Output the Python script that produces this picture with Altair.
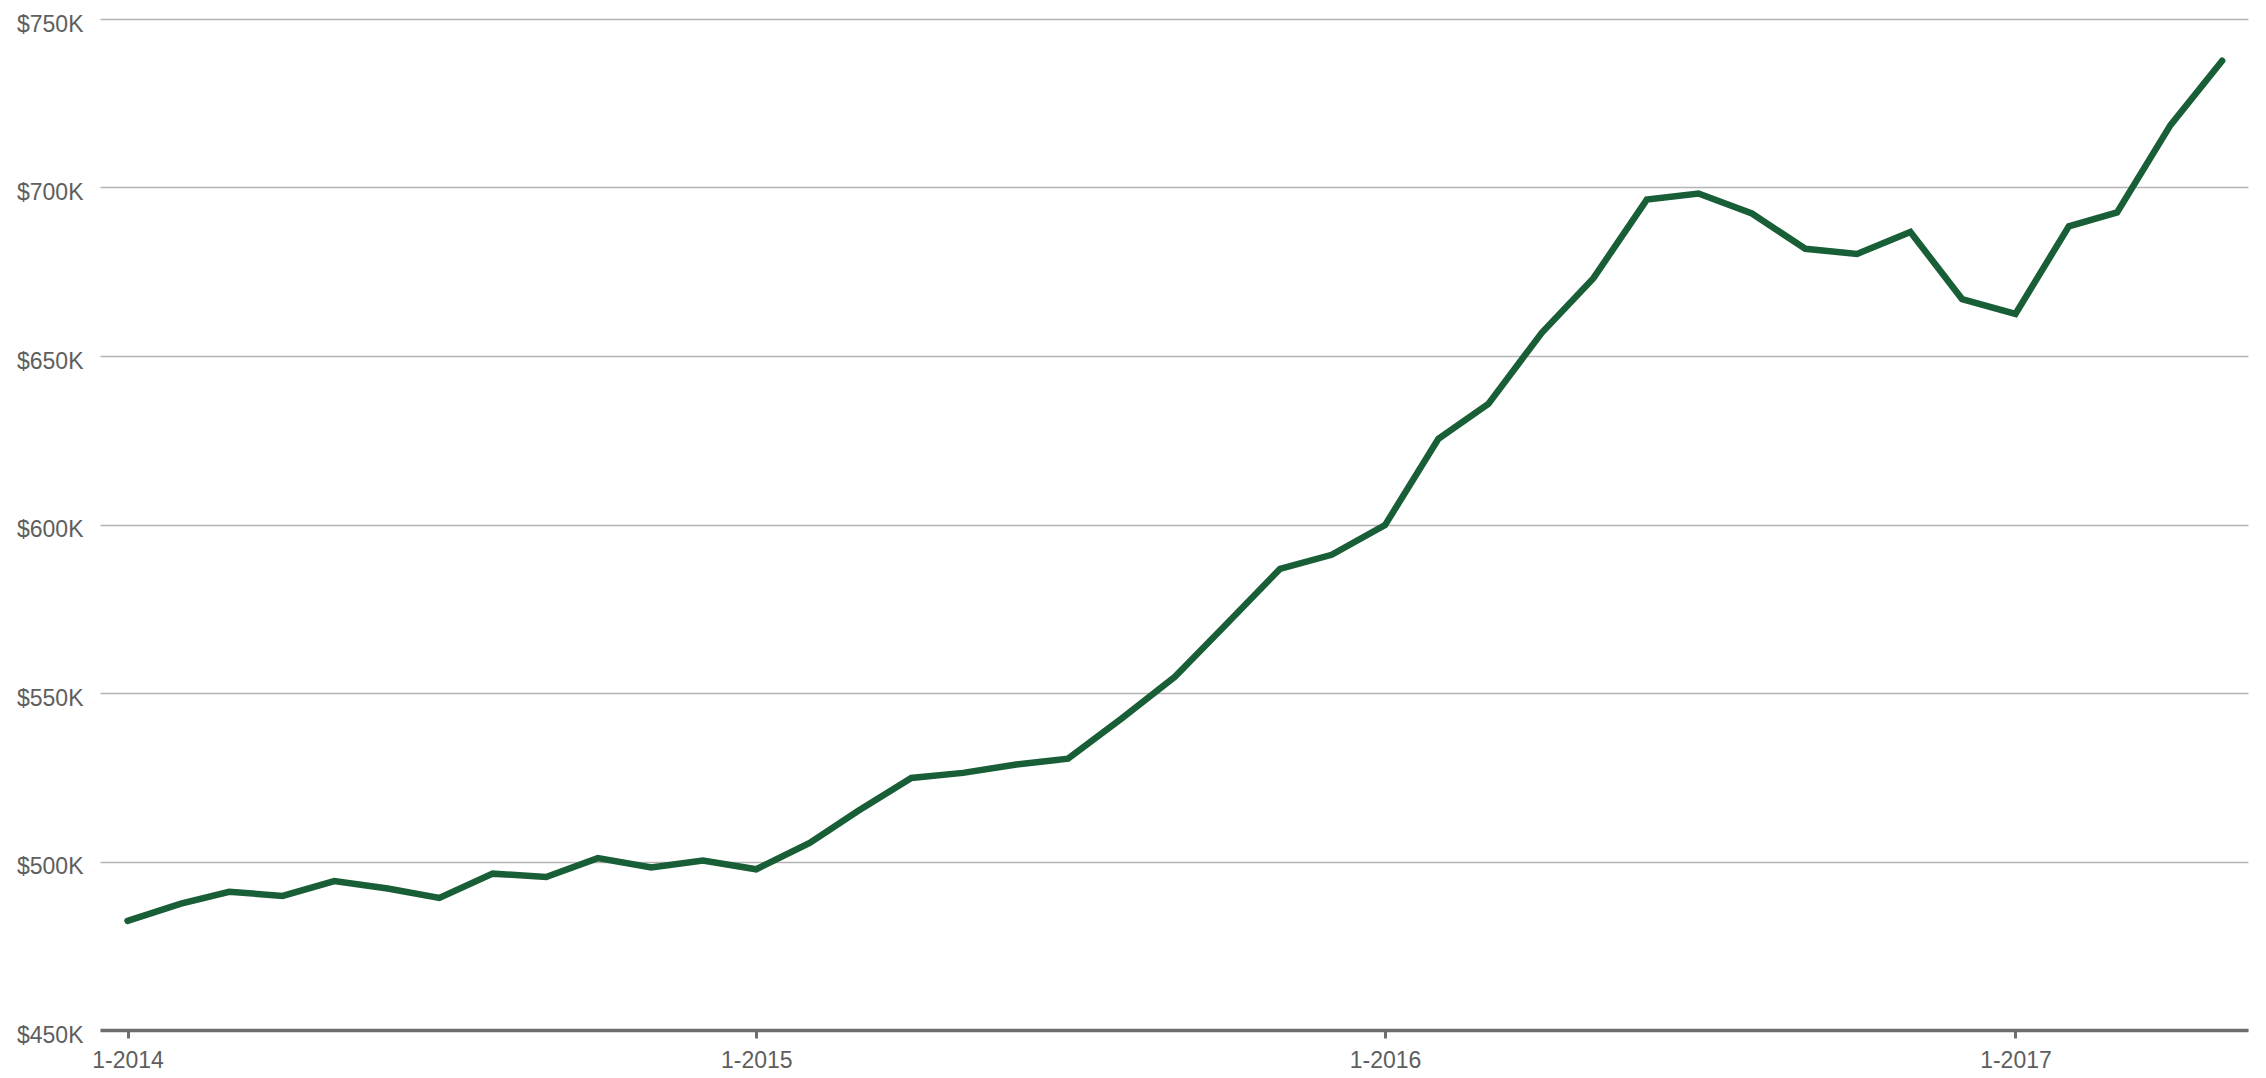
import altair as alt
import pandas as pd

months = [
    "2014-01", "2014-02", "2014-03", "2014-04", "2014-05", "2014-06",
    "2014-07", "2014-08", "2014-09", "2014-10", "2014-11", "2014-12",
    "2015-01", "2015-02", "2015-03", "2015-04", "2015-05", "2015-06",
    "2015-07", "2015-08", "2015-09", "2015-10", "2015-11", "2015-12",
    "2016-01", "2016-02", "2016-03", "2016-04", "2016-05", "2016-06",
    "2016-07", "2016-08", "2016-09", "2016-10", "2016-11", "2016-12",
    "2017-01", "2017-02", "2017-03", "2017-04", "2017-05",
]
prices = [
    482400, 487500, 491000, 489800, 494200, 492000,
    489200, 496400, 495400, 501000, 498200, 500300,
    497700, 505500, 515000, 524800, 526300, 528800,
    530500, 542400, 554800, 570500, 586800, 591000,
    599800, 625400, 635800, 656900, 673100, 696400,
    698200, 692300, 681800, 680300, 686800, 666900,
    662500, 688500, 692600, 718500, 737600,
]

df = pd.DataFrame({"date": [m + "-01T00:00:00" for m in months], "price": prices})

FONT = "Liberation Sans"
LABEL = "#5e5e5e"

chart = (
    alt.Chart(df)
    .mark_line(color="#185e36", strokeWidth=6.5, strokeJoin="miter", strokeCap="round")
    .encode(
        x=alt.X(
            "date:T",
            title=None,
            scale=alt.Scale(
                domain=[
                    alt.DateTime(year=2013, month=12, date=16),
                    alt.DateTime(year=2017, month=5, date=16),
                ]
            ),
            axis=alt.Axis(
                values=[
                    alt.DateTime(year=2014, month=1, date=1),
                    alt.DateTime(year=2015, month=1, date=1),
                    alt.DateTime(year=2016, month=1, date=1),
                    alt.DateTime(year=2017, month=1, date=1),
                ],
                format="%-m-%Y",
                grid=False,
                domainColor="#6e6e6e",
                domainWidth=3.5,
                tickColor="#6e6e6e",
                tickWidth=3,
                tickSize=8,
                labelPadding=11,
                labelFont=FONT,
                labelFontSize=23,
                labelColor=LABEL,
            ),
        ),
        y=alt.Y(
            "price:Q",
            title=None,
            scale=alt.Scale(domain=[450000, 750000], nice=False, zero=False),
            axis=alt.Axis(
                values=[450000, 500000, 550000, 600000, 650000, 700000, 750000],
                labelExpr="'$' + datum.value / 1000 + 'K'",
                domain=False,
                ticks=False,
                tickSize=0,
                grid=True,
                gridColor="#b3b3b3",
                gridWidth=1.6,
                labelPadding=17,
                labelOffset=5,
                labelFont=FONT,
                labelFontSize=23,
                labelColor=LABEL,
            ),
        ),
    )
    .properties(
        width=2148,
        height=1011,
        autosize=alt.AutoSizeParams(type="none"),
        padding={"left": 92, "top": 11, "right": 10, "bottom": 48},
    )
    .configure_view(stroke=None)
)

chart.save("out.html", embed_options={"renderer": "svg", "actions": False})
